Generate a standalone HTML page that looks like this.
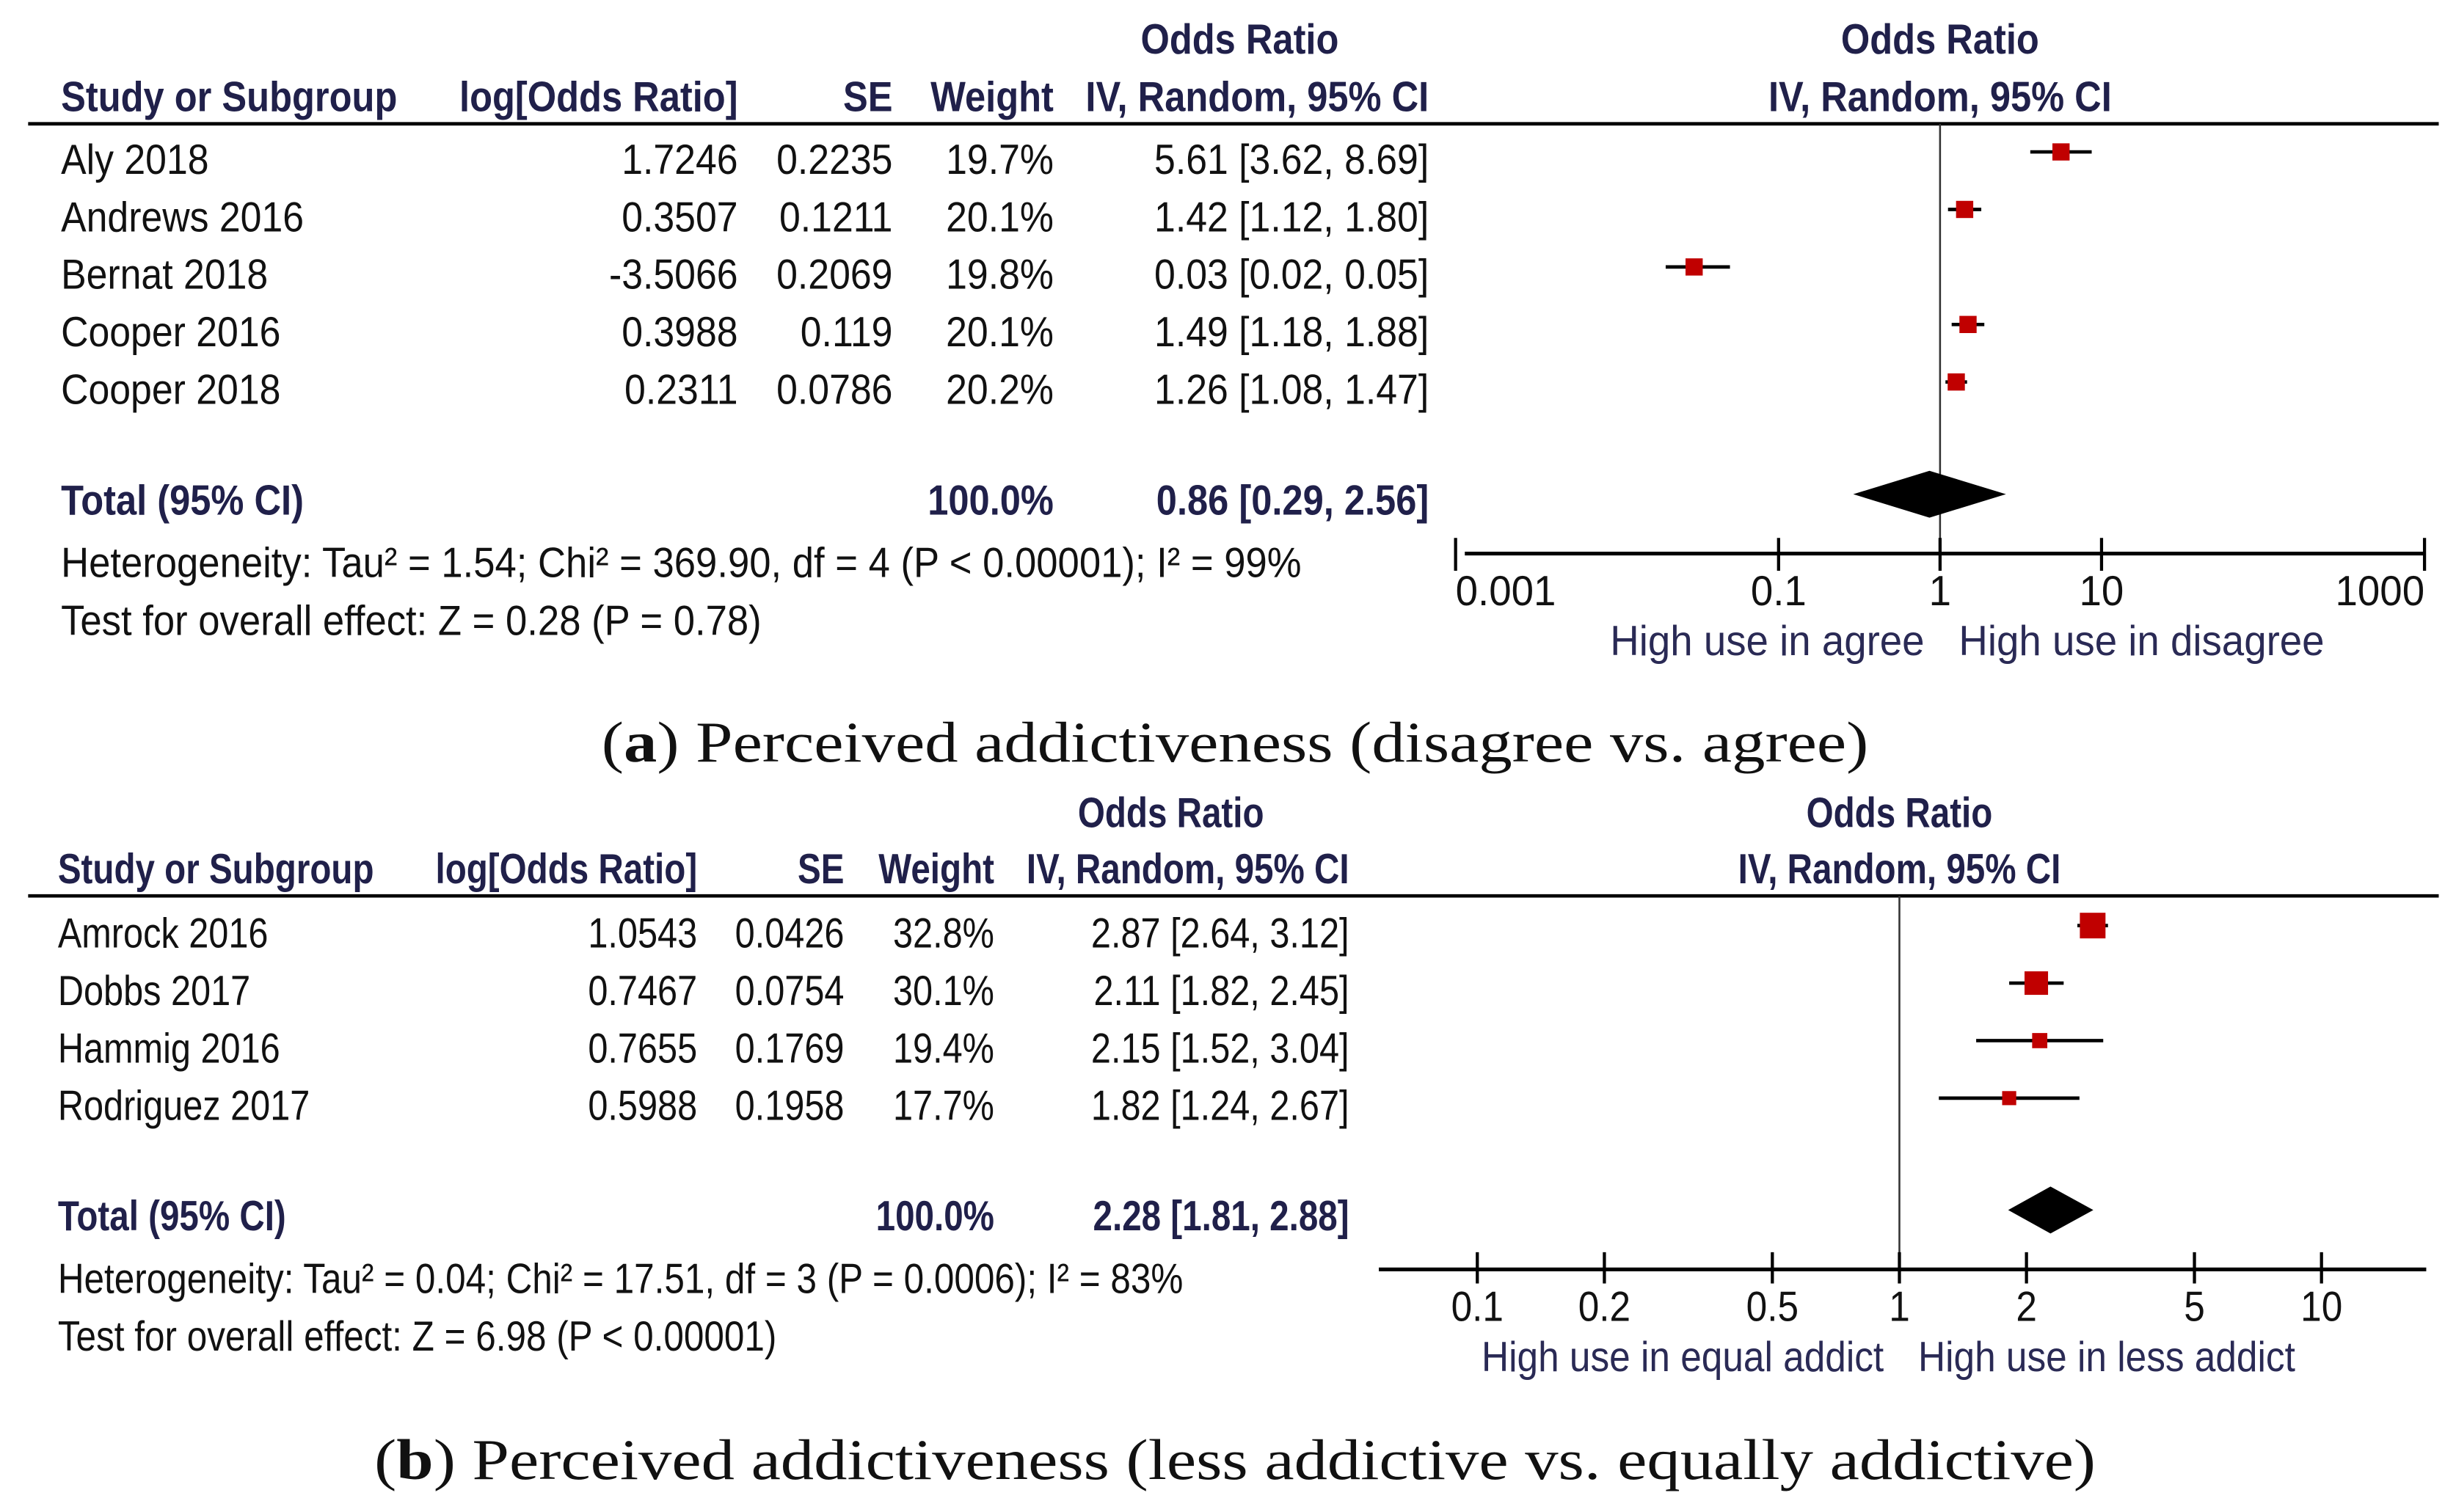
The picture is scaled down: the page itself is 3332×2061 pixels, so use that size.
<!DOCTYPE html>
<html><head><meta charset="utf-8">
<style>
html,body{margin:0;padding:0;background:#fff;}
svg{display:block;}
</style></head>
<body>
<svg id="fig" width="3332" height="2061" viewBox="0 0 1564 967" xmlns="http://www.w3.org/2000/svg">
<rect x="0" y="0" width="1564" height="967" fill="#fff"/>
</svg>
<script>
// Panel A data
const aStudies = ["Aly 2018","Andrews 2016","Bernat 2018","Cooper 2016","Cooper 2018"];
const aLogOR = ["1.7246","0.3507","-3.5066","0.3988","0.2311"];
const aSE = ["0.2235","0.1211","0.2069","0.119","0.0786"];
const aWeight = [19.7,20.1,19.8,20.1,20.2];
const aOR = [5.61,1.42,0.03,1.49,1.26];
const aLo = [3.62,1.12,0.02,1.18,1.08];
const aHi = [8.69,1.80,0.05,1.88,1.47];
const aTotal = [0.86,0.29,2.56];
const aTicks = [0.001,0.1,1,10,1000];
const aTickLabels = ["0.001","0.1","1","10","1000"];
// Panel B data
const bStudies = ["Amrock 2016","Dobbs 2017","Hammig 2016","Rodriguez 2017"];
const bLogOR = ["1.0543","0.7467","0.7655","0.5988"];
const bSE = ["0.0426","0.0754","0.1769","0.1958"];
const bWeight = [32.8,30.1,19.4,17.7];
const bOR = [2.87,2.11,2.15,1.82];
const bLo = [2.64,1.82,1.52,1.24];
const bHi = [3.12,2.45,3.04,2.67];
const bTotal = [2.28,1.81,2.88];
const bTicks = [0.1,0.2,0.5,1,2,5,10];
const bTickLabels = ["0.1","0.2","0.5","1","2","5","10"];

const NS="http://www.w3.org/2000/svg";
const svg=document.getElementById('fig');
let K=1;
function txt(s,x,y,opt,name){
  opt=opt||{};
  const t=document.createElementNS(NS,'text');
  
  
  const sx=opt.serif?1.15:(opt.sx||(opt.bold?0.88:0.9))*K;
  t.setAttribute('transform','translate('+x+','+y+') scale('+sx+',1)');
  t.setAttribute('font-family', opt.serif?'"Liberation Serif", serif':'"Liberation Sans", sans-serif');
  t.setAttribute('font-size', opt.size||27);
  t.setAttribute('fill', opt.fill||'#111');
  if(opt.bold) t.setAttribute('font-weight','bold');
  if(opt.anchor) t.setAttribute('text-anchor',opt.anchor);
  t.textContent=s;
  svg.appendChild(t);
  return t;
}
function line(x1,y1,x2,y2,w,name,col){
  const l=document.createElementNS(NS,'line');
  
  
  l.setAttribute('x1',x1);l.setAttribute('y1',y1);l.setAttribute('x2',x2);l.setAttribute('y2',y2);
  l.setAttribute('stroke',col||'#000');l.setAttribute('stroke-width',w);
  svg.appendChild(l);
}
function fmt(v){return v.toFixed(2);}
const HC='#20204a';

function panel(P){
  K=P.k;
  const xs=v=>P.x1+Math.log10(v)*P.dec;
  txt('Odds Ratio',P.orCol,P.hy1,{anchor:'middle',bold:true,fill:HC},'odds-ratio-header');
  txt('Odds Ratio',P.x1,P.hy1,{anchor:'middle',bold:true,fill:HC},'plot-odds-ratio-header');
  txt('Study or Subgroup',P.cStudy,P.hy2,{bold:true,fill:HC},'study-column-header');
  txt('log[Odds Ratio]',P.cLog,P.hy2,{bold:true,fill:HC,anchor:'end'},'log-or-column-header');
  txt('SE',P.cSE,P.hy2,{bold:true,fill:HC,anchor:'end'},'se-column-header');
  txt('Weight',P.cW,P.hy2,{bold:true,fill:HC,anchor:'end'},'weight-column-header');
  txt('IV, Random, 95% CI',P.cOR,P.hy2,{bold:true,fill:HC,anchor:'end'},'ci-column-header');
  txt('IV, Random, 95% CI',P.x1,P.hy2,{bold:true,fill:HC,anchor:'middle'},'plot-ci-header');
  line(18,P.ruleY,1560,P.ruleY,2.2,'header-rule');
  line(P.x1,P.ruleY,P.x1,P.axisY,1.2,'null-effect-line','#333');
  P.studies.forEach((s,i)=>{
    const y=P.rowY0+i*P.rowH;
    txt(s,P.cStudy,y+14,{},'study-name');
    txt(P.log[i],P.cLog,y+14,{anchor:'end'},'log-or-value');
    txt(P.se[i],P.cSE,y+14,{anchor:'end'},'se-value');
    txt(P.w[i].toFixed(1)+'%',P.cW,y+14,{anchor:'end'},'weight-value');
    txt(fmt(P.or[i])+' ['+fmt(P.lo[i])+', '+fmt(P.hi[i])+']',P.cOR,y+14,{anchor:'end'},'or-ci-value');
    line(xs(P.lo[i]),y,xs(P.hi[i]),y,2.2,'ci-whisker');
    const sz=P.sizeF(P.w[i]);
    const r=document.createElementNS(NS,'rect');
    
    
    r.setAttribute('x',xs(P.or[i])-sz/2);r.setAttribute('y',y-sz/2);
    r.setAttribute('width',sz);r.setAttribute('height',sz);r.setAttribute('fill','#c00000');
    svg.appendChild(r);
  });
  txt('Total (95% CI)',P.cStudy,P.totY+11,{bold:true,fill:HC},'total-label');
  txt('100.0%',P.cW,P.totY+11,{bold:true,fill:HC,anchor:'end'},'total-weight');
  txt(fmt(P.tot[0])+' ['+fmt(P.tot[1])+', '+fmt(P.tot[2])+']',P.cOR,P.totY+11,{bold:true,fill:HC,anchor:'end'},'total-or-ci');
  const d=document.createElementNS(NS,'polygon');
  
  
  const cx=xs(P.tot[0]),l=xs(P.tot[1]),rr=xs(P.tot[2]),ty=P.totY-2;
  d.setAttribute('points',l+','+ty+' '+cx+','+(ty-P.dh)+' '+rr+','+ty+' '+cx+','+(ty+P.dh));
  d.setAttribute('fill','#000');
  svg.appendChild(d);
  txt(P.het,P.cStudy,P.hetY+9,{sx:0.915},'heterogeneity-text');
  txt(P.test,P.cStudy,P.hetY+46,{sx:0.915},'overall-effect-text');
  line(P.axL,P.axisY,P.axR,P.axisY,2.4,'x-axis');
  P.ticks.forEach((t,i)=>{
    const x=xs(t);
    line(x,P.axisY-P.tUp,x,P.axisY+P.tDn,2,'x-tick');
    txt(P.tickLabels[i],x,P.axisY+33,{anchor:P.tAnch?P.tAnch(i):'middle',sx:0.95},'x-tick-label');
  });
  txt(P.favL,P.x1-10,P.axisY+65,{anchor:'end',fill:'#2a2a55',sx:0.95},'favours-left-label');
  txt(P.favR,P.x1+12,P.axisY+65,{anchor:'start',fill:'#2a2a55',sx:0.95},'favours-right-label');
  const c=txt('',790,P.capY,{serif:true,size:37,anchor:'middle'},'panel-caption');
  c.innerHTML='(<tspan font-weight="bold">'+P.letter+'</tspan>) '+P.cap;
}

panel({k:1,studies:aStudies,log:aLogOR,se:aSE,w:aWeight,or:aOR,lo:aLo,hi:aHi,tot:aTotal,
 ticks:aTicks,tickLabels:aTickLabels,x1:1241,dec:103.3,orCol:793,
 hy1:34,hy2:71,cStudy:39,cLog:472,cSE:571,cW:674,cOR:914,ruleY:79,rowY0:97,rowH:36.8,
 totY:318,dh:15,hetY:360,axisY:354,axL:937,axR:1550,tUp:10,tDn:11,
 tAnch:i=>i==0?'start':(i==4?'end':'middle'),
 sizeF:w=>11,favL:'High use in agree',favR:'High use in disagree',
 het:'Heterogeneity: Tau² = 1.54; Chi² = 369.90, df = 4 (P < 0.00001); I² = 99%',
 test:'Test for overall effect: Z = 0.28 (P = 0.78)',
 letter:'a',cap:'Perceived addictiveness (disagree vs. agree)',capY:487});

panel({k:0.94,studies:bStudies,log:bLogOR,se:bSE,w:bWeight,or:bOR,lo:bLo,hi:bHi,tot:bTotal,
 ticks:bTicks,tickLabels:bTickLabels,x1:1215,dec:270,orCol:749,
 hy1:529,hy2:565,cStudy:37,cLog:446,cSE:540,cW:636,cOR:863,ruleY:573,rowY0:592,rowH:36.8,
 totY:776,dh:15,hetY:818,axisY:812,axL:882,axR:1552,tUp:11,tDn:9,
 sizeF:w=>Math.max(9,w*0.5),favL:'High use in equal addict',favR:'High use in less addict',
 het:'Heterogeneity: Tau² = 0.04; Chi² = 17.51, df = 3 (P = 0.0006); I² = 83%',
 test:'Test for overall effect: Z = 6.98 (P < 0.00001)',
 letter:'b',cap:'Perceived addictiveness (less addictive vs. equally addictive)',capY:946});
</script>
</body></html>
